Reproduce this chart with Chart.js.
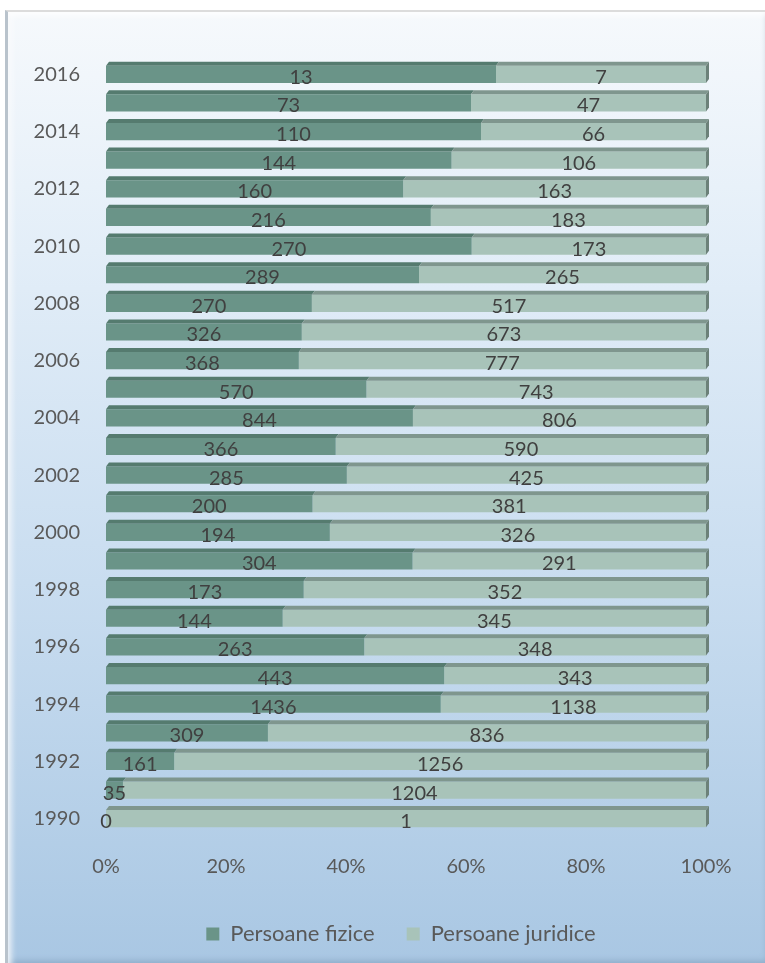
<!DOCTYPE html>
<html>
<head>
<meta charset="utf-8">
<script src="https://cdn.jsdelivr.net/npm/chart.js@4.4.1/dist/chart.umd.min.js"></script>
<style>
  html, body { margin: 0; padding: 0; background: #fff; }
  #frame {
    position: absolute; left: 5px; top: 10px; width: 760px; height: 953px;
    box-sizing: border-box;
    border-top: 2px solid #dcdcdc; border-left: 3px solid #b9c3cc;
    background: linear-gradient(180deg, #f6f9fc 0%, #e3eef8 25%, #c9ddf0 60%, #a9c7e3 100%);
    box-shadow: inset 6px 6px 6px -3px rgba(255,255,255,0.9), inset 0 -4px 6px -2px rgba(90,120,150,0.35);
  }
  #chart { position: absolute; left: 0; top: 0; }
</style>
</head>
<body>
<div id="frame"><canvas id="chart" width="757" height="951"></canvas></div>
<script>
// ============================================================
// Persoane fizice / juridice, 1990-2016 (100% stacked bars)
// ============================================================

const years = [1990, 1991, 1992, 1993, 1994, 1995, 1996, 1997, 1998, 1999, 2000, 2001, 2002,
  2003, 2004, 2005, 2006, 2007, 2008, 2009, 2010, 2011, 2012, 2013, 2014, 2015, 2016];

const fizice = [0, 35, 161, 309, 1436, 443, 263, 144, 173, 304, 194, 200, 285,
  366, 844, 570, 368, 326, 270, 289, 270, 216, 160, 144, 110, 73, 13];

const juridice = [1, 1204, 1256, 836, 1138, 343, 348, 345, 352, 291, 326, 381, 425,
  590, 806, 743, 777, 673, 517, 265, 173, 183, 163, 106, 66, 47, 7];

const xTicks = ['0%', '20%', '40%', '60%', '80%', '100%'];

const FONT = 'Lato, "Open Sans", sans-serif';
const labelColor = '#595959';

// percentages for the 100% stack
const totals = years.map((_, i) => fizice[i] + juridice[i]);
const pct = arr => arr.map((v, i) => totals[i] ? v / totals[i] * 100 : 0);

// fake 3D: top face and right side, built from the bar elements
const bevel3d = {
  id: 'bevel3d',
  afterDatasetsDraw(chart) {
    const ctx = chart.ctx;
    const d = 4, dx = 3;
    const tops = ['#557b6f', '#7f968e'];
    chart.data.datasets.forEach((ds, di) => {
      const meta = chart.getDatasetMeta(di);
      meta.data.forEach(bar => {
        const top = bar.y - bar.height / 2;
        const bottom = bar.y + bar.height / 2;
        const x0 = Math.min(bar.base, bar.x), x1 = Math.max(bar.base, bar.x);
        ctx.save();
        ctx.fillStyle = tops[di];
        ctx.beginPath();
        ctx.moveTo(x0, top);
        ctx.lineTo(x0 + dx, top - d);
        ctx.lineTo(x1 + dx, top - d);
        ctx.lineTo(x1, top);
        ctx.closePath();
        ctx.fill();
        if (di === chart.data.datasets.length - 1) {
          ctx.fillStyle = '#6c8179';
          ctx.beginPath();
          ctx.moveTo(x1, top);
          ctx.lineTo(x1 + dx, top - d);
          ctx.lineTo(x1 + dx, bottom - d);
          ctx.lineTo(x1, bottom);
          ctx.closePath();
          ctx.fill();
        }
        ctx.restore();
      });
    });
  },
};

// value labels centred in each segment
const valueLabels = {
  id: 'valueLabels',
  afterDatasetsDraw(chart) {
    const ctx = chart.ctx;
    const raw = [fizice, juridice];
    ctx.save();
    ctx.font = '20px ' + FONT;
    ctx.fillStyle = '#404040';
    ctx.textAlign = 'center';
    ctx.textBaseline = 'middle';
    chart.data.datasets.forEach((ds, di) => {
      chart.getDatasetMeta(di).data.forEach((bar, i) => {
        ctx.fillText(String(raw[di][i]), (bar.x + bar.base) / 2, bar.y + 3);
      });
    });
    ctx.restore();
  },
};

// centre the legend under the plot area rather than the whole canvas
const legendShift = {
  id: 'legendShift',
  afterLayout(chart) {
    const shift = 44;
    chart.legend.left += shift;
    chart.legend.right += shift;
  },
};

new Chart(document.getElementById('chart'), {
  type: 'bar',
  data: {
    labels: years.map(String),
    datasets: [
      { label: 'Persoane fizice', data: pct(fizice), backgroundColor: '#6a9488' },
      { label: 'Persoane juridice', data: pct(juridice), backgroundColor: '#a8c3b9' },
    ],
  },
  options: {
    indexAxis: 'y',
    responsive: false,
    animation: false,
    barPercentage: 0.8,
    categoryPercentage: 0.75,
    layout: { padding: { top: 48, right: 59, bottom: 8, left: 0 } },
    plugins: {
      legend: {
        position: 'bottom',
        labels: { color: labelColor, font: { family: FONT, size: 22 }, boxWidth: 13, boxHeight: 13, padding: 32 },
      },
      tooltip: { enabled: false },
    },
    scales: {
      x: {
        stacked: true, min: 0, max: 100,
        grid: { display: false }, border: { display: false },
        afterBuildTicks: s => { s.ticks = xTicks.map((t, i) => ({ value: i * 20 })); },
        afterFit: s => { s.height = 58; },
        ticks: { color: labelColor, font: { family: FONT, size: 20 }, padding: 14, callback: (v, i) => xTicks[i] },
      },
      y: {
        stacked: true, reverse: true,
        grid: { display: false }, border: { display: false },
        afterFit: s => { s.width = 98; },
        ticks: {
          color: labelColor, font: { family: FONT, size: 20 }, autoSkip: false, padding: 18,
          callback: (v, i) => years[i] % 2 === 0 ? String(years[i]) : '',
        },
      },
    },
  },
  plugins: [bevel3d, valueLabels, legendShift],
});
</script>
</body>
</html>
